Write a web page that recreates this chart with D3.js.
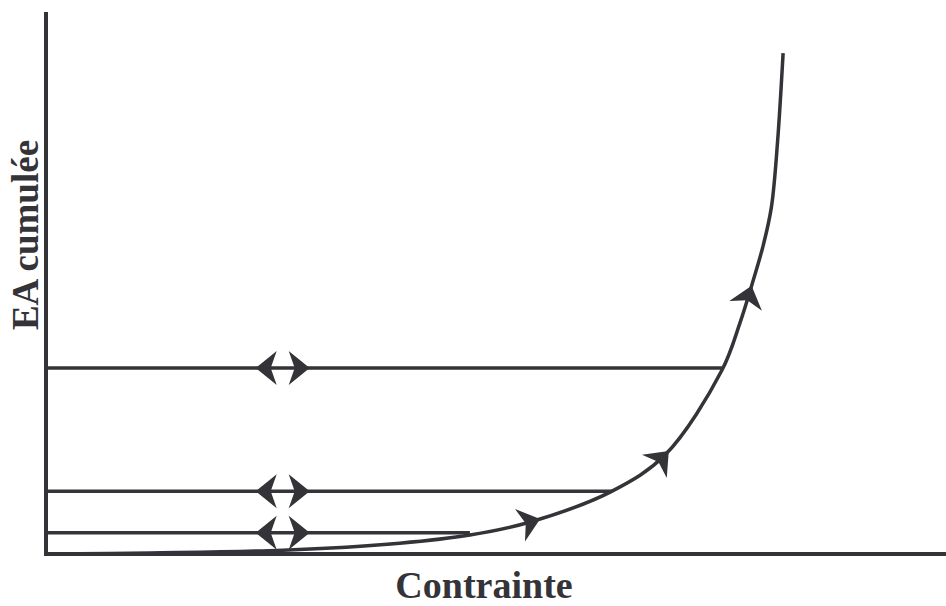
<!DOCTYPE html>
<html>
<head>
<meta charset="utf-8">
<script src="https://d3js.org/d3.v7.min.js"></script>
<style>
  body { margin: 0; background: #fff; }
  svg { display: block; }
</style>
</head>
<body>
<svg width="946" height="606"></svg>
<script>
// curve points (contrainte, EA cumulee) in arbitrary units 0..100
var curveX = [0, 11.6, 26.3, 39.3, 47.1, 53.8, 62.9, 68.8, 75.1, 77.1, 78.6, 79.7, 80.6, 81.3, 81.9];
var curveY = [0, 0.2, 0.7, 2.0, 3.5, 5.9, 11.6, 18.3, 33.9, 42.6, 50.6, 57.0, 64.0, 76.4, 92.4];

// horizontal levels: height and where they meet the curve
var levelY = [34.3, 11.6, 3.9];
var levelEnd = [75.1, 62.9, 47.1];
var doubleArrowX = 26.3;

// arrows along the curve (x of the tip)
var curveArrowX = [54.9, 69.2, 78.4];

var xLabel = "Contrainte";
var yLabel = "EA cumulée";

var color = "#333338";

var svg = d3.select("svg");
var x0 = 46, y0 = 554;

var x = d3.scaleLinear().domain([0, 100]).range([x0, 946]);
var y = d3.scaleLinear().domain([0, 100]).range([y0, 12]);

var curveData = curveX.map(function (d, i) { return [d, curveY[i]]; });

// stealth arrow head, tip at origin pointing +x
var headPath = "M0,0 L-21,-17 L-15,0 L-21,17 Z";

// axes
svg.append("line")
    .attr("x1", x0).attr("y1", 12).attr("x2", x0).attr("y2", y0 + 2)
    .attr("stroke", color).attr("stroke-width", 4);
svg.append("line")
    .attr("x1", x0 - 2).attr("y1", y0).attr("x2", 946).attr("y2", y0)
    .attr("stroke", color).attr("stroke-width", 4);

// horizontal levels
var levels = svg.append("g");
levelY.forEach(function (ly, i) {
    levels.append("line")
        .attr("x1", x0).attr("x2", x(levelEnd[i]))
        .attr("y1", y(ly)).attr("y2", y(ly))
        .attr("stroke", color).attr("stroke-width", 3.5);
    levels.append("path")
        .attr("d", headPath)
        .attr("fill", color)
        .attr("transform", "translate(" + (x(doubleArrowX) - 27) + "," + y(ly) + ") rotate(180)");
    levels.append("path")
        .attr("d", headPath)
        .attr("fill", color)
        .attr("transform", "translate(" + (x(doubleArrowX) + 27) + "," + y(ly) + ")");
});

// the curve
var line = d3.line()
    .x(function (d) { return x(d[0]); })
    .y(function (d) { return y(d[1]); })
    .curve(d3.curveCatmullRom.alpha(0.5));

var curve = svg.append("path")
    .datum(curveData)
    .attr("d", line)
    .attr("fill", "none")
    .attr("stroke", color)
    .attr("stroke-width", 3.5);

// arrows on the curve
var node = curve.node();
var total = node.getTotalLength();
function lengthAtX(px) {
    var lo = 0, hi = total;
    for (var k = 0; k < 40; k++) {
        var mid = (lo + hi) / 2;
        if (node.getPointAtLength(mid).x < px) lo = mid; else hi = mid;
    }
    return lo;
}
curveArrowX.forEach(function (ax) {
    var l = lengthAtX(x(ax));
    var p = node.getPointAtLength(l);
    var q = node.getPointAtLength(Math.max(0, l - 4));
    var ang = Math.atan2(p.y - q.y, p.x - q.x) * 180 / Math.PI;
    svg.append("path")
        .attr("d", headPath)
        .attr("fill", color)
        .attr("transform", "translate(" + p.x + "," + p.y + ") rotate(" + ang + ")");
});

// labels
svg.append("text")
    .attr("x", 484).attr("y", 598)
    .attr("text-anchor", "middle")
    .attr("font-family", "'Liberation Serif', 'Times New Roman', serif")
    .attr("font-weight", "bold")
    .attr("font-size", 38)
    .attr("fill", color)
    .text(xLabel);

svg.append("text")
    .attr("transform", "translate(38,235) rotate(-90)")
    .attr("text-anchor", "middle")
    .attr("font-family", "'Liberation Serif', 'Times New Roman', serif")
    .attr("font-weight", "bold")
    .attr("font-size", 37)
    .attr("fill", color)
    .text(yLabel);
</script>
</body>
</html>
